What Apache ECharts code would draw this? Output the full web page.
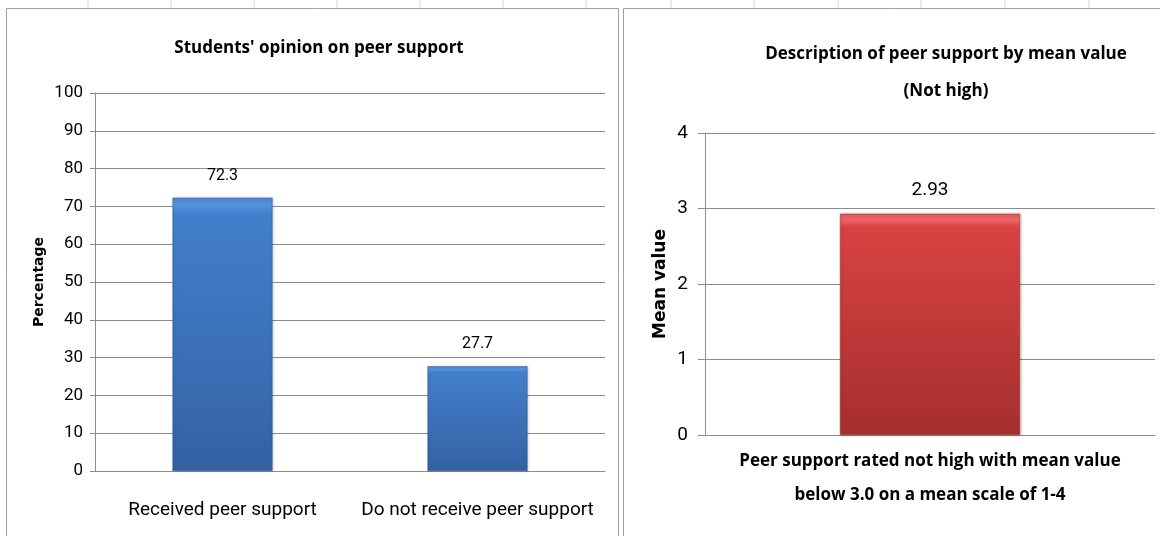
<!DOCTYPE html>
<html><head><meta charset="utf-8">
<script src="https://cdn.jsdelivr.net/npm/echarts@6/dist/echarts.min.js"></script>
<style>html,body{margin:0;padding:0;background:#fff}#c{width:1160px;height:536px}</style>
</head><body><div id="c"></div>
<script>
const leftCategories = ['Received peer support', 'Do not receive peer support'];
const leftValues = [72.3, 27.7];
const leftTicks = [0, 10, 20, 30, 40, 50, 60, 70, 80, 90, 100];
const rightCategories = ['Peer support rated not high with mean value\nbelow 3.0 on a mean scale of 1-4'];
const rightValues = [2.93];
const rightTicks = [0, 1, 2, 3, 4];

const narrow = 'Roboto, "Open Sans", sans-serif';
const boldF = '"Open Sans", sans-serif';
const chart = echarts.init(document.getElementById('c'));
const blue = {type:'linear',x:0,y:0,x2:0,y2:1,colorStops:[{offset:0,color:'#4a88d6'},{offset:0.03,color:'#5592dc'},{offset:0.06,color:'#437fcc'},{offset:1,color:'#3462a3'}]};
const red = {type:'linear',x:0,y:0,x2:0,y2:1,colorStops:[{offset:0,color:'#e85a5a'},{offset:0.03,color:'#ec6262'},{offset:0.06,color:'#d84242'},{offset:1,color:'#a52f2e'}]};

const bgLines = [];
[88,171,254,337,420,503,586,671,754,838,921,1005,1089].forEach(x=>{
  bgLines.push({type:'line',shape:{x1:x,y1:0,x2:x,y2:8},style:{stroke:'#d8d8d8',lineWidth:1},silent:true});
});

chart.setOption({
  animation:false,
  title:[
    {text:"Students' opinion on peer support",left:314,top:35,textAlign:'center',
     textStyle:{fontFamily:boldF,fontWeight:'bold',fontSize:17,color:'#000'}},
    {text:'Description of peer support by mean value\n(Not high)',left:941,top:31,textAlign:'center',
     textStyle:{fontFamily:boldF,fontWeight:'bold',fontSize:17,color:'#000',lineHeight:37}}
  ],
  graphic:[
    ...bgLines,
    {type:'rect',shape:{x:6.5,y:8.5,width:612,height:540},style:{fill:'none',stroke:'#a0a0a0',lineWidth:1},silent:true},
    {type:'rect',shape:{x:623.5,y:8.5,width:540,height:540},style:{fill:'none',stroke:'#a0a0a0',lineWidth:1},silent:true}
  ],
  grid:[
    {left:95,top:93,width:510,height:378},
    {left:705,top:133,width:450,height:302}
  ],
  xAxis:[
    {type:'category',gridIndex:0,data:leftCategories,
     axisLine:{lineStyle:{color:'#8c8c8c'}},axisTick:{show:false},
     axisLabel:{interval:0,margin:30,fontFamily:narrow,fontSize:19,color:'#000'}},
    {type:'category',gridIndex:1,data:rightCategories,
     axisLine:{lineStyle:{color:'#8c8c8c'}},axisTick:{show:false},
     axisLabel:{interval:0,margin:9,fontFamily:boldF,fontWeight:'bold',fontSize:17,color:'#000',lineHeight:34}}
  ],
  yAxis:[
    {type:'value',gridIndex:0,min:0,max:100,interval:10,
     name:'Percentage',nameLocation:'middle',nameGap:49,nameRotate:90,
     nameTextStyle:{fontFamily:'"DejaVu Sans", sans-serif',fontWeight:'bold',fontSize:14,color:'#000'},
     axisLine:{show:true,lineStyle:{color:'#8c8c8c'}},axisTick:{show:true,length:5,lineStyle:{color:'#8c8c8c'}},
     splitLine:{lineStyle:{color:'#8c8c8c'}},
     axisLabel:{margin:12,fontFamily:narrow,fontSize:17,color:'#000',
       formatter:v=>leftTicks.includes(v)?String(v):''}},
    {type:'value',gridIndex:1,min:0,max:4,interval:1,
     name:'Mean value',nameLocation:'middle',nameGap:36,nameRotate:90,
     nameTextStyle:{fontFamily:'"DejaVu Sans", sans-serif',fontWeight:'bold',fontSize:17,color:'#000'},
     axisLine:{show:true,lineStyle:{color:'#8c8c8c'}},axisTick:{show:true,length:7,lineStyle:{color:'#8c8c8c'}},
     splitLine:{lineStyle:{color:'#8c8c8c'}},
     axisLabel:{margin:17,fontFamily:narrow,fontSize:19,color:'#000',
       formatter:v=>rightTicks.includes(v)?String(v):''}}
  ],
  series:[
    {type:'bar',xAxisIndex:0,yAxisIndex:0,data:leftValues,barWidth:100,
     itemStyle:{color:blue,borderColor:'#2f5b96',borderWidth:0.5,shadowColor:'rgba(0,0,0,0.25)',shadowBlur:3,shadowOffsetX:1},
     label:{show:true,position:'top',distance:14,fontFamily:narrow,fontSize:16,color:'#000',formatter:p=>p.value.toFixed(1)}},
    {type:'bar',xAxisIndex:1,yAxisIndex:1,data:rightValues,barWidth:180,
     itemStyle:{color:red,borderColor:'#9a2c2c',borderWidth:0.5,shadowColor:'rgba(0,0,0,0.25)',shadowBlur:3,shadowOffsetX:1},
     label:{show:true,position:'top',distance:14,fontFamily:narrow,fontSize:19,color:'#000',formatter:p=>p.value.toFixed(2)}}
  ]
});
</script></body></html>
